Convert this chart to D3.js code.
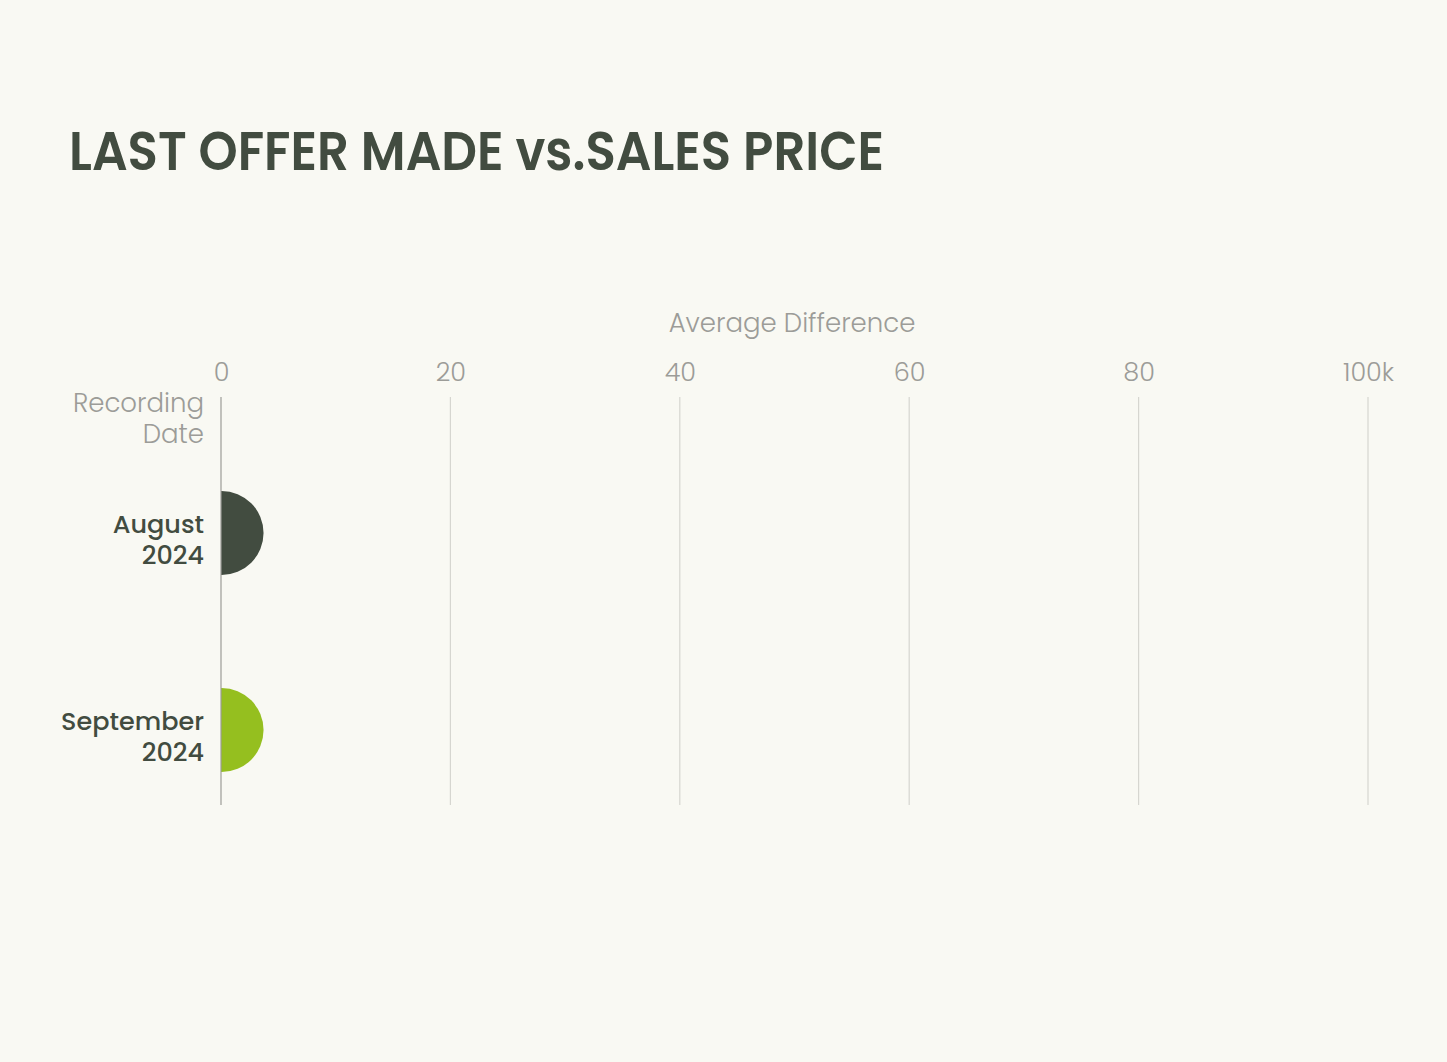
<!DOCTYPE html>
<html>
<head>
<meta charset="utf-8">
<script src="https://cdn.jsdelivr.net/npm/d3@7"></script>
<style>
  html, body { margin: 0; padding: 0; background: #f9f9f3; }
  svg { display: block; font-family: Poppins, Lato, "Noto Sans", sans-serif; }
</style>
</head>
<body>
<svg id="chart"></svg>
<script>
// chart data
const categories = [['August', '2024'], ['September', '2024']];
const values = [0.05, 0.05];
const barColors = ['#424c40', '#95bf1f'];
const xTicks = [0, 20, 40, 60, 80, 100];

const W = 1447, H = 1062;
const svg = d3.select('#chart').attr('width', W).attr('height', H);

svg.append('rect').attr('width', W).attr('height', H).attr('fill', '#f9f9f3');

// title
svg.append('text')
  .attr('x', 69).attr('y', 170)
  .attr('fill', '#424c40')
  .attr('font-size', 55)
  .attr('font-weight', 600)
  .attr('textLength', 815)
  .attr('lengthAdjust', 'spacingAndGlyphs')
  .text('LAST OFFER MADE vs.SALES PRICE');

const plotTop = 397, plotBottom = 805;

const x = d3.scaleLinear().domain([0, 100]).range([221, 1368]);
const y = d3.scaleBand()
  .domain(categories.map((d, i) => i))
  .range([435, 828])
  .paddingInner(0.574)
  .paddingOuter(0.284);

// gridlines
svg.append('g')
  .selectAll('line')
  .data(xTicks.slice(1))
  .join('line')
  .attr('x1', d => x(d)).attr('x2', d => x(d))
  .attr('y1', plotTop).attr('y2', plotBottom)
  .attr('stroke', '#d6d6d0')
  .attr('stroke-width', 1.2);

// top axis labels
svg.append('g')
  .attr('transform', `translate(0,${plotTop})`)
  .call(d3.axisTop(x).tickValues(xTicks).tickSize(0).tickPadding(16)
    .tickFormat(d => d === 100 ? '100k' : d))
  .call(g => g.select('.domain').remove())
  .call(g => g.selectAll('.tick text')
    .attr('fill', '#9c9c98')
    .attr('font-size', 25.5)
    .attr('font-weight', 300)
    .attr('font-family', 'Poppins, Lato, "Noto Sans", sans-serif'));

svg.append('text')
  .attr('x', 792).attr('y', 332)
  .attr('text-anchor', 'middle')
  .attr('fill', '#9c9c98')
  .attr('font-size', 26)
  .attr('font-weight', 300)
  .text('Average Difference');

// y axis title
const yTitle = svg.append('text')
  .attr('text-anchor', 'end')
  .attr('fill', '#9c9c98')
  .attr('font-size', 26)
  .attr('font-weight', 300);
yTitle.append('tspan').attr('x', 204).attr('y', 412).text('Recording');
yTitle.append('tspan').attr('x', 204).attr('y', 443).text('Date');

// bars: rounded end cap, radius = half bandwidth
const r = y.bandwidth() / 2;
svg.append('g')
  .selectAll('path')
  .data(values)
  .join('path')
  .attr('fill', (d, i) => barColors[i])
  .attr('d', (d, i) => {
    const x0 = x(0), x1 = x(d), y0 = y(i);
    const p = d3.path();
    p.moveTo(x0, y0);
    p.lineTo(x1, y0);
    p.arc(x1, y0 + r, r, -Math.PI / 2, Math.PI / 2);
    p.lineTo(x0, y0 + 2 * r);
    p.closePath();
    return p.toString();
  });

// category labels
const labels = svg.append('g')
  .selectAll('text')
  .data(categories)
  .join('text')
  .attr('text-anchor', 'end')
  .attr('fill', '#424c40')
  .attr('font-size', 25.5)
  .attr('font-weight', 500);
labels.append('tspan')
  .attr('x', 204)
  .attr('y', (d, i) => y(i) + r + 0)
  .text(d => d[0]);
labels.append('tspan')
  .attr('x', 204)
  .attr('y', (d, i) => y(i) + r + 31)
  .text(d => d[1]);

// y axis line
svg.append('line')
  .attr('x1', x(0)).attr('x2', x(0))
  .attr('y1', plotTop).attr('y2', plotBottom)
  .attr('stroke', '#9c9c98')
  .attr('stroke-width', 1.2);
</script>
</body>
</html>
